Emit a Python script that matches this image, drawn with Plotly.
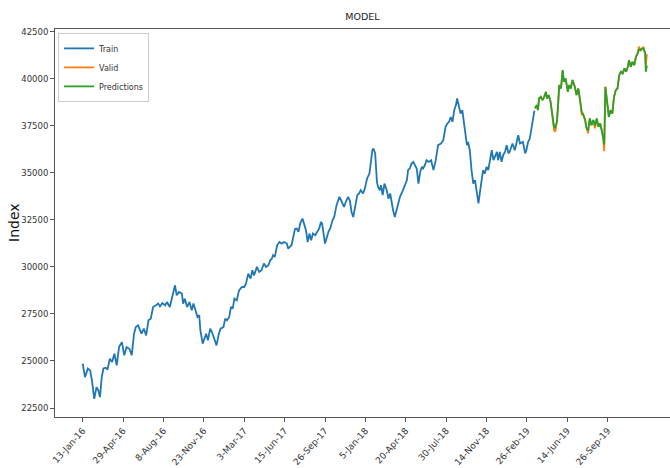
import plotly.graph_objects as go

# Trading-day number (0 = 13-Jan-16) and closing index level, training period
train_day = [
    0, 4, 9, 13, 16, 20, 24, 27, 30, 33,
    36, 40, 43, 47, 51, 55, 59, 63, 68, 72,
    76, 81, 85, 89, 92, 96, 102, 106, 110, 114,
    118, 122, 127, 131, 134, 138, 143, 146, 151, 157,
    160, 163, 167, 172, 174, 177, 181, 185, 189, 192,
    196, 199, 202, 204, 208, 211, 214, 217, 221, 224,
    226, 229, 232, 236, 239, 244, 247, 250, 254, 257,
    260, 263, 267, 271, 276, 280, 283, 287, 291, 294,
    297, 302, 306, 310, 314, 318, 322, 325, 328, 330,
    333, 337, 341, 345, 349, 354, 356, 359, 362, 368,
    371, 374, 377, 381, 384, 387, 390, 393, 396, 399,
    403, 406, 410, 413, 415, 420, 423, 426, 429, 433,
    436, 440, 443, 445, 448, 451, 453, 456, 460, 463,
    466, 469, 472, 476, 479, 482, 486, 489, 493, 497,
    500, 502, 504, 507, 510, 512, 515, 517, 520, 523,
    527, 530, 533, 536, 538, 541, 544, 547, 550, 555,
    559, 562, 564, 567, 570, 573, 576, 579, 582, 585,
    588, 590, 593, 596, 600, 604, 608, 612, 616, 621,
    625, 629, 632, 635, 638, 641, 644, 647, 649, 652,
    655, 658, 661, 664, 666, 668, 671, 674, 677, 680,
    683, 686, 689, 691, 694, 697, 700, 703, 706, 709,
    712, 715, 718, 720, 723, 726, 729, 732, 735, 738,
    740, 745, 749, 755, 758, 763, 767, 769, 772, 775,
    778, 781, 783,
]
train_close = [
    24860, 24140, 24600, 24500, 23970, 22990, 23610, 23440, 23080, 24140,
    24600, 24640, 24540, 25120, 24940, 25390, 24770, 25740, 26000, 25300,
    25740, 25650, 25300, 26450, 26800, 26890, 26450, 26720, 26360, 27160,
    27250, 27870, 27960, 28050, 27900, 28080, 27960, 28130, 27870, 28580,
    29020, 28490, 28670, 28580, 28050, 28310, 27870, 28130, 27690, 28050,
    27600, 27340, 27430, 26630, 25920, 26190, 26450, 26100, 26720, 26540,
    26360, 26100, 25830, 26450, 26720, 26800, 27250, 27160, 27340, 27870,
    27780, 28310, 28220, 28750, 28930, 28930, 29110, 29640, 29380, 29820,
    29550, 30000, 29730, 29820, 30180, 30000, 30090, 30350, 30440, 30620,
    30530, 31150, 31320, 31240, 31320, 31240, 30970, 31060, 31150, 32020,
    32040, 31860, 32300, 32570, 32300, 31950, 31320, 31770, 31410, 31770,
    31680, 31860, 32040, 32390, 32300, 31240, 31590, 31860, 32040, 32480,
    32650, 33280, 33540, 33720, 33540, 33370, 33190, 33450, 33720, 33540,
    32920, 32650, 33100, 33810, 33900, 34070, 33900, 34160, 34700, 34960,
    35670, 36200, 36290, 36030, 34520, 34250, 34070, 34340, 33810, 34430,
    34070, 33630, 33900, 33280, 33010, 32650, 33010, 33370, 33720, 34070,
    34430, 34610, 35140, 35230, 35490, 35580, 35400, 35230, 34430, 35050,
    35320, 35230, 35400, 35670, 35580, 35670, 35140, 35670, 36470, 36560,
    36730, 37440, 37620, 37710, 37970, 37710, 38330, 38600, 38950, 38600,
    38150, 38330, 37620, 37090, 36470, 36640, 36200, 35140, 34430, 34610,
    34070, 33370, 34070, 34610, 35140, 34960, 35320, 35140, 35670, 36200,
    35670, 35850, 36110, 35670, 36110, 35580, 35950, 36110, 36470, 36030,
    36110, 36560, 36200, 37000, 36560, 36640, 36030, 36200, 36640, 36820,
    37350, 37890, 38300,
]

# Validation period: actual closes and model predictions on the same days
valid_day = [
    784, 787, 789, 791, 794, 797, 800, 803, 805, 808,
    811, 814, 817, 819, 822, 824, 826, 829, 832, 834,
    837, 841, 843, 846, 849, 853, 856, 859, 862, 865,
    867, 871, 873, 876, 879, 882, 885, 888, 891, 894,
    897, 899, 902, 904, 906, 908, 910, 912, 915, 918,
    921, 924, 927, 930, 933, 936, 939, 942, 945, 947,
    950, 953, 956, 959, 962, 964, 967, 970, 972, 975,
    976, 978,
]
valid_close = [
    38420, 38600, 38330, 38950, 39040, 38860, 39040, 39300, 38950, 39130,
    38770, 38150, 37270, 37180, 37710, 38600, 39660, 39480, 40460, 39840,
    40020, 39300, 39660, 39480, 39930, 39570, 39130, 39480, 38900, 38060,
    38150, 37800, 37400, 37100, 37890, 37530, 37800, 37360, 37890, 37440,
    37620, 37360, 36900, 36150, 39570, 39040, 38510, 37970, 38330, 38150,
    39040, 39390, 39480, 40190, 40370, 40280, 40550, 40370, 40630, 40990,
    40630, 40900, 40720, 41170, 41350, 41700, 41520, 41610, 41700, 41350,
    40700, 41300,
]
pred_close = [
    38420, 38600, 38330, 38950, 39040, 38860, 39040, 39300, 38950, 39130,
    38770, 38150, 37450, 37400, 37710, 38600, 39660, 39480, 40460, 39840,
    40020, 39300, 39660, 39480, 39930, 39570, 39130, 39480, 38900, 38250,
    38150, 37800, 37400, 37250, 37890, 37530, 37800, 37500, 37890, 37440,
    37620, 37360, 36900, 36500, 39570, 39040, 38510, 37970, 38330, 38150,
    39040, 39390, 39480, 40190, 40370, 40280, 40550, 40370, 40630, 40990,
    40630, 40900, 40720, 41170, 41350, 41550, 41520, 41610, 41600, 41350,
    40370, 40700,
]

tick_day = [0, 70, 140, 210, 280, 350, 420, 490, 560, 630, 700, 770, 840, 910]
tick_label = ['13-Jan-16', '29-Apr-16', '8-Aug-16', '23-Nov-16', '3-Mar-17',
              '15-Jun-17', '26-Sep-17', '5-Jan-18', '20-Apr-18', '30-Jul-18',
              '14-Nov-18', '26-Feb-19', '14-Jun-19', '26-Sep-19']
y_ticks = [22500, 25000, 27500, 30000, 32500, 35000, 37500, 40000, 42500]

FONT = 'DejaVu Sans'
AXIS = '#555555'
LW = 1.8

fig = go.Figure()
fig.add_trace(go.Scatter(x=train_day, y=train_close, mode='lines', name='Train',
                         line=dict(color='#1f77b4', width=LW)))
fig.add_trace(go.Scatter(x=valid_day, y=valid_close, mode='lines', name='Valid',
                         line=dict(color='#ff7f0e', width=LW)))
fig.add_trace(go.Scatter(x=valid_day, y=pred_close, mode='lines', name='Predictions',
                         line=dict(color='#2ca02c', width=LW)))

fig.update_layout(
    width=670, height=468,
    margin=dict(l=55, r=0, t=29, b=51),
    paper_bgcolor='white', plot_bgcolor='white',
    font=dict(family=FONT, size=8, color='#333333'),
    showlegend=True,
    legend=dict(x=0.005, y=0.99, xanchor='left', yanchor='top',
                bgcolor='rgba(255,255,255,0.8)', bordercolor='#cccccc',
                borderwidth=1, font=dict(size=8, family=FONT), itemwidth=30),
    title=dict(text='MODEL', x=0.5, xref='paper', xanchor='center',
               y=1 - 17 / 468, yref='container', yanchor='middle',
               font=dict(family=FONT, size=9.5, color='#222222')),
)

fig.update_xaxes(
    range=[-48, 1018], tickmode='array', tickvals=tick_day, ticktext=tick_label,
    tickangle=-48, ticks='outside', ticklen=4, tickcolor=AXIS,
    showline=True, linecolor=AXIS, linewidth=1, mirror=True,
    showgrid=False, zeroline=False, automargin=False,
    tickfont=dict(size=9, family=FONT, color='#333333'),
)
fig.update_yaxes(
    range=[22022, 42643], tickmode='array', tickvals=y_ticks, tickformat='d',
    ticks='outside', ticklen=4, tickcolor=AXIS,
    showline=True, linecolor=AXIS, linewidth=1,
    showgrid=False, zeroline=False, automargin=False,
    tickfont=dict(size=8.5, family=FONT, color='#333333'),
)

fig.add_annotation(text='Index', xref='paper', yref='paper',
                   x=(14 - 55) / 615, y=0.5, xanchor='center', yanchor='middle',
                   textangle=-90, showarrow=False,
                   font=dict(family=FONT, size=14, color='#111111'))

fig.write_html('out.html')
